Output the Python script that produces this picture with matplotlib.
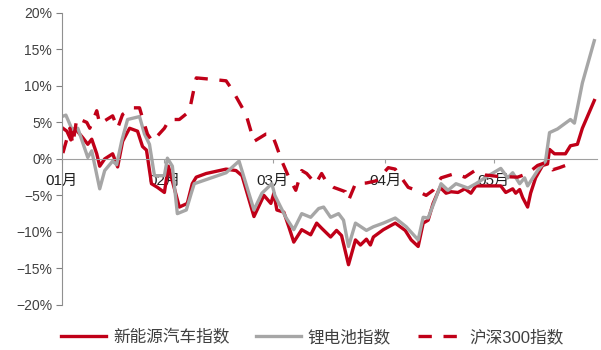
import matplotlib
matplotlib.use("Agg")
import matplotlib.pyplot as plt

# x axis: trading days since the start of January
month_ticks = [0, 20.6, 42.4, 65, 86.8]
month_labels = ["01月", "02月", "03月", "04月", "05月"]

# 新能源汽车指数
nev_x = [0, 1, 1.8, 2.6, 4.2, 5.2, 6, 7, 7.6, 8.6, 10.2, 11.2, 12.2, 13.6, 15.2, 16.2, 17, 18,
         19.2, 20.6, 21.4, 23.6, 25.2, 26.2, 27, 29, 33, 35, 36.2, 38.6, 40.6, 42, 42.6, 43.2,
         44.6, 45.6, 46.6, 48.2, 50, 51.2, 52.2, 54, 55.2, 56.2, 57.6, 59, 60, 61.2, 62, 62.6,
         64.6, 67, 69, 70.2, 71.6, 72.6, 73.6, 74.6, 76, 77.2, 78.2, 79.6, 81, 82.2, 83.2, 88.2,
         89.2, 90.6, 91.2, 92, 92.6, 93.6, 94.2, 95.2, 96.6, 97.6, 98, 99, 101.2, 102.2, 103.6,
         104.6, 107]
nev_y = [4.3, 3.8, 2.6, 4.2, 2.9, 2.0, 2.7, 0.7, -1.0, 0.0, 0.7, -1.1, 2.4, 4.2, 3.8, 1.7, 1.2, -3.4,
         -3.9, -4.6, -1.0, -6.6, -6.1, -3.4, -2.5, -2.0, -1.4, -1.6, -2.3, -7.9, -5.0, -6.1, -4.7, -7.0,
         -7.3, -9.3, -11.4, -9.7, -10.4, -8.8, -9.5, -10.7, -9.8, -10.5, -14.5, -11.1, -11.8, -11.0, -11.8, -10.7,
         -9.7, -8.8, -9.8, -11.1, -12.0, -8.8, -8.4, -6.1, -3.9, -4.7, -4.5, -4.6, -4.1, -4.7, -3.7, -3.7,
         -4.6, -4.1, -4.7, -4.2, -5.3, -6.6, -4.7, -2.6, -0.9, -0.7, 1.3, 0.7, 0.7, 1.8, 2.0,
         4.2, 8.0]

# 锂电池指数
li_x = [0, 0.8, 2, 3.2, 5.2, 6, 7.6, 8.6, 10.2, 11, 12, 13.2, 15.6, 16.6, 17.6, 18.6, 20.6, 21.2,
        22.2, 23.2, 25, 26, 26.6, 33, 35.6, 38.6, 40.2, 42.2, 42.8, 45, 46.6, 48.2, 50, 51.6, 52.6,
        54, 55.6, 56.6, 57.6, 59, 61.2, 62.6, 64.6, 67, 69.2, 71.6, 72.6, 73.6, 75.2, 76.2, 77.6,
        79.2, 81.6, 83.2, 85, 88.2, 89.6, 90.6, 92, 93, 93.6, 95.6, 97.2, 98, 99.6, 102.2, 103,
        104.6, 107]
li_y = [5.8, 6.0, 4.1, 4.2, 0.2, 1.1, -4.1, -1.6, -0.3, -0.8, 2.4, 5.4, 5.8, 3.4, 2.0, -2.3, -2.3, 0.1,
        -1.0, -7.5, -7.0, -4.7, -3.4, -1.9, -0.3, -7.0, -4.7, -3.4, -5.0, -8.0, -9.7, -7.5, -8.0, -6.8, -6.6,
        -8.0, -7.5, -8.4, -12.0, -8.8, -9.8, -9.3, -8.8, -8.1, -9.3, -11.1, -8.0, -8.1, -5.3, -3.4, -4.3,
        -3.4, -4.0, -3.4, -2.6, -1.3, -2.6, -1.9, -3.4, -2.6, -3.7, -1.6, -0.3, 3.6, 4.1, 5.4, 4.9,
        10.4, 16.2]

# 沪深300指数
hs_x = [0.2, 1.6, 2.2, 3, 5, 5.6, 7, 7.6, 10.2, 11.2, 12.2, 14.2, 15.6, 16.2, 17.2, 18.2, 20.6,
        21.6, 23.6, 25.6, 27, 30.2, 33, 34.2, 37, 38.6, 41, 42.2, 43, 44.2, 45.6, 47, 48.2, 49.2,
        51, 52.2, 53.2, 54.6, 57, 57.6, 59, 61.2, 63.2, 65.6, 67, 69.6, 71.2, 73.2, 74.6, 76.2,
        79, 81, 83, 85, 87.6, 91.6, 93.6, 95.6, 97.2, 98.6, 100, 101.6]
hs_y = [0.8, 4.2, 2.0, 5.6, 5.0, 4.2, 6.6, 4.8, 5.9, 4.2, 6.1, 7.0, 7.0, 5.6, 3.4, 2.4, 4.2,
        5.4, 5.4, 6.5, 11.1, 10.9, 10.7, 9.5, 6.1, 2.4, 3.4, 3.4, 2.0, -0.3, -2.5, -4.3, -1.6, -2.0,
        -3.4, -2.0, -3.2, -3.9, -4.5, -5.7, -3.4, -3.3, -3.0, -1.2, -1.4, -3.9, -4.3, -5.0, -4.3, -2.6,
        -2.0, -2.5, -1.6, -2.2, -2.4, -2.5, -2.0, -0.9, -0.5, -1.5, -1.2, -0.8]

red = "#C00018"
grey = "#A6A6A6"
txt = "#404040"

plt.rcParams['font.family'] = ['Liberation Sans', 'Noto Sans CJK SC']

fig = plt.figure(figsize=(6.01, 3.5), dpi=100)
ax = fig.add_axes([0.103, 0.129, 0.890, 0.834])

ax.plot(nev_x, nev_y, color=red, lw=2.4, label="新能源汽车指数", solid_joinstyle='round')
ax.plot(li_x, li_y, color=grey, lw=2.4, label="锂电池指数", solid_joinstyle='round')
ax.plot(hs_x, hs_y, color=red, lw=2.4, ls=(0, (4, 3.5)), label="沪深300指数")

ax.set_ylim(-20, 20)
ax.set_xlim(0, 107.5)
ax.set_yticks(range(-20, 21, 5))
ax.set_yticklabels([f"{v}%".replace("-", "−") for v in range(-20, 21, 5)])
ax.tick_params(axis='y', length=4, color="#808080", labelsize=10, labelcolor=txt, pad=3)

ax.spines['top'].set_visible(False)
ax.spines['right'].set_visible(False)
ax.spines['left'].set_color("#909090")
ax.spines['bottom'].set_position(('data', 0))
ax.spines['bottom'].set_color("#A0A0A0")
ax.set_xticks(month_ticks)
ax.set_xticklabels(month_labels)
ax.tick_params(axis='x', length=3, color="#A0A0A0", labelsize=11, labelcolor="#202020", pad=8)

fig.legend(loc='center', bbox_to_anchor=(0.52, 0.037), ncol=3, frameon=False,
           fontsize=12, labelcolor=txt, handlelength=2.7, handletextpad=0.4,
           columnspacing=1.6)

fig.savefig("out.png", dpi=100)
